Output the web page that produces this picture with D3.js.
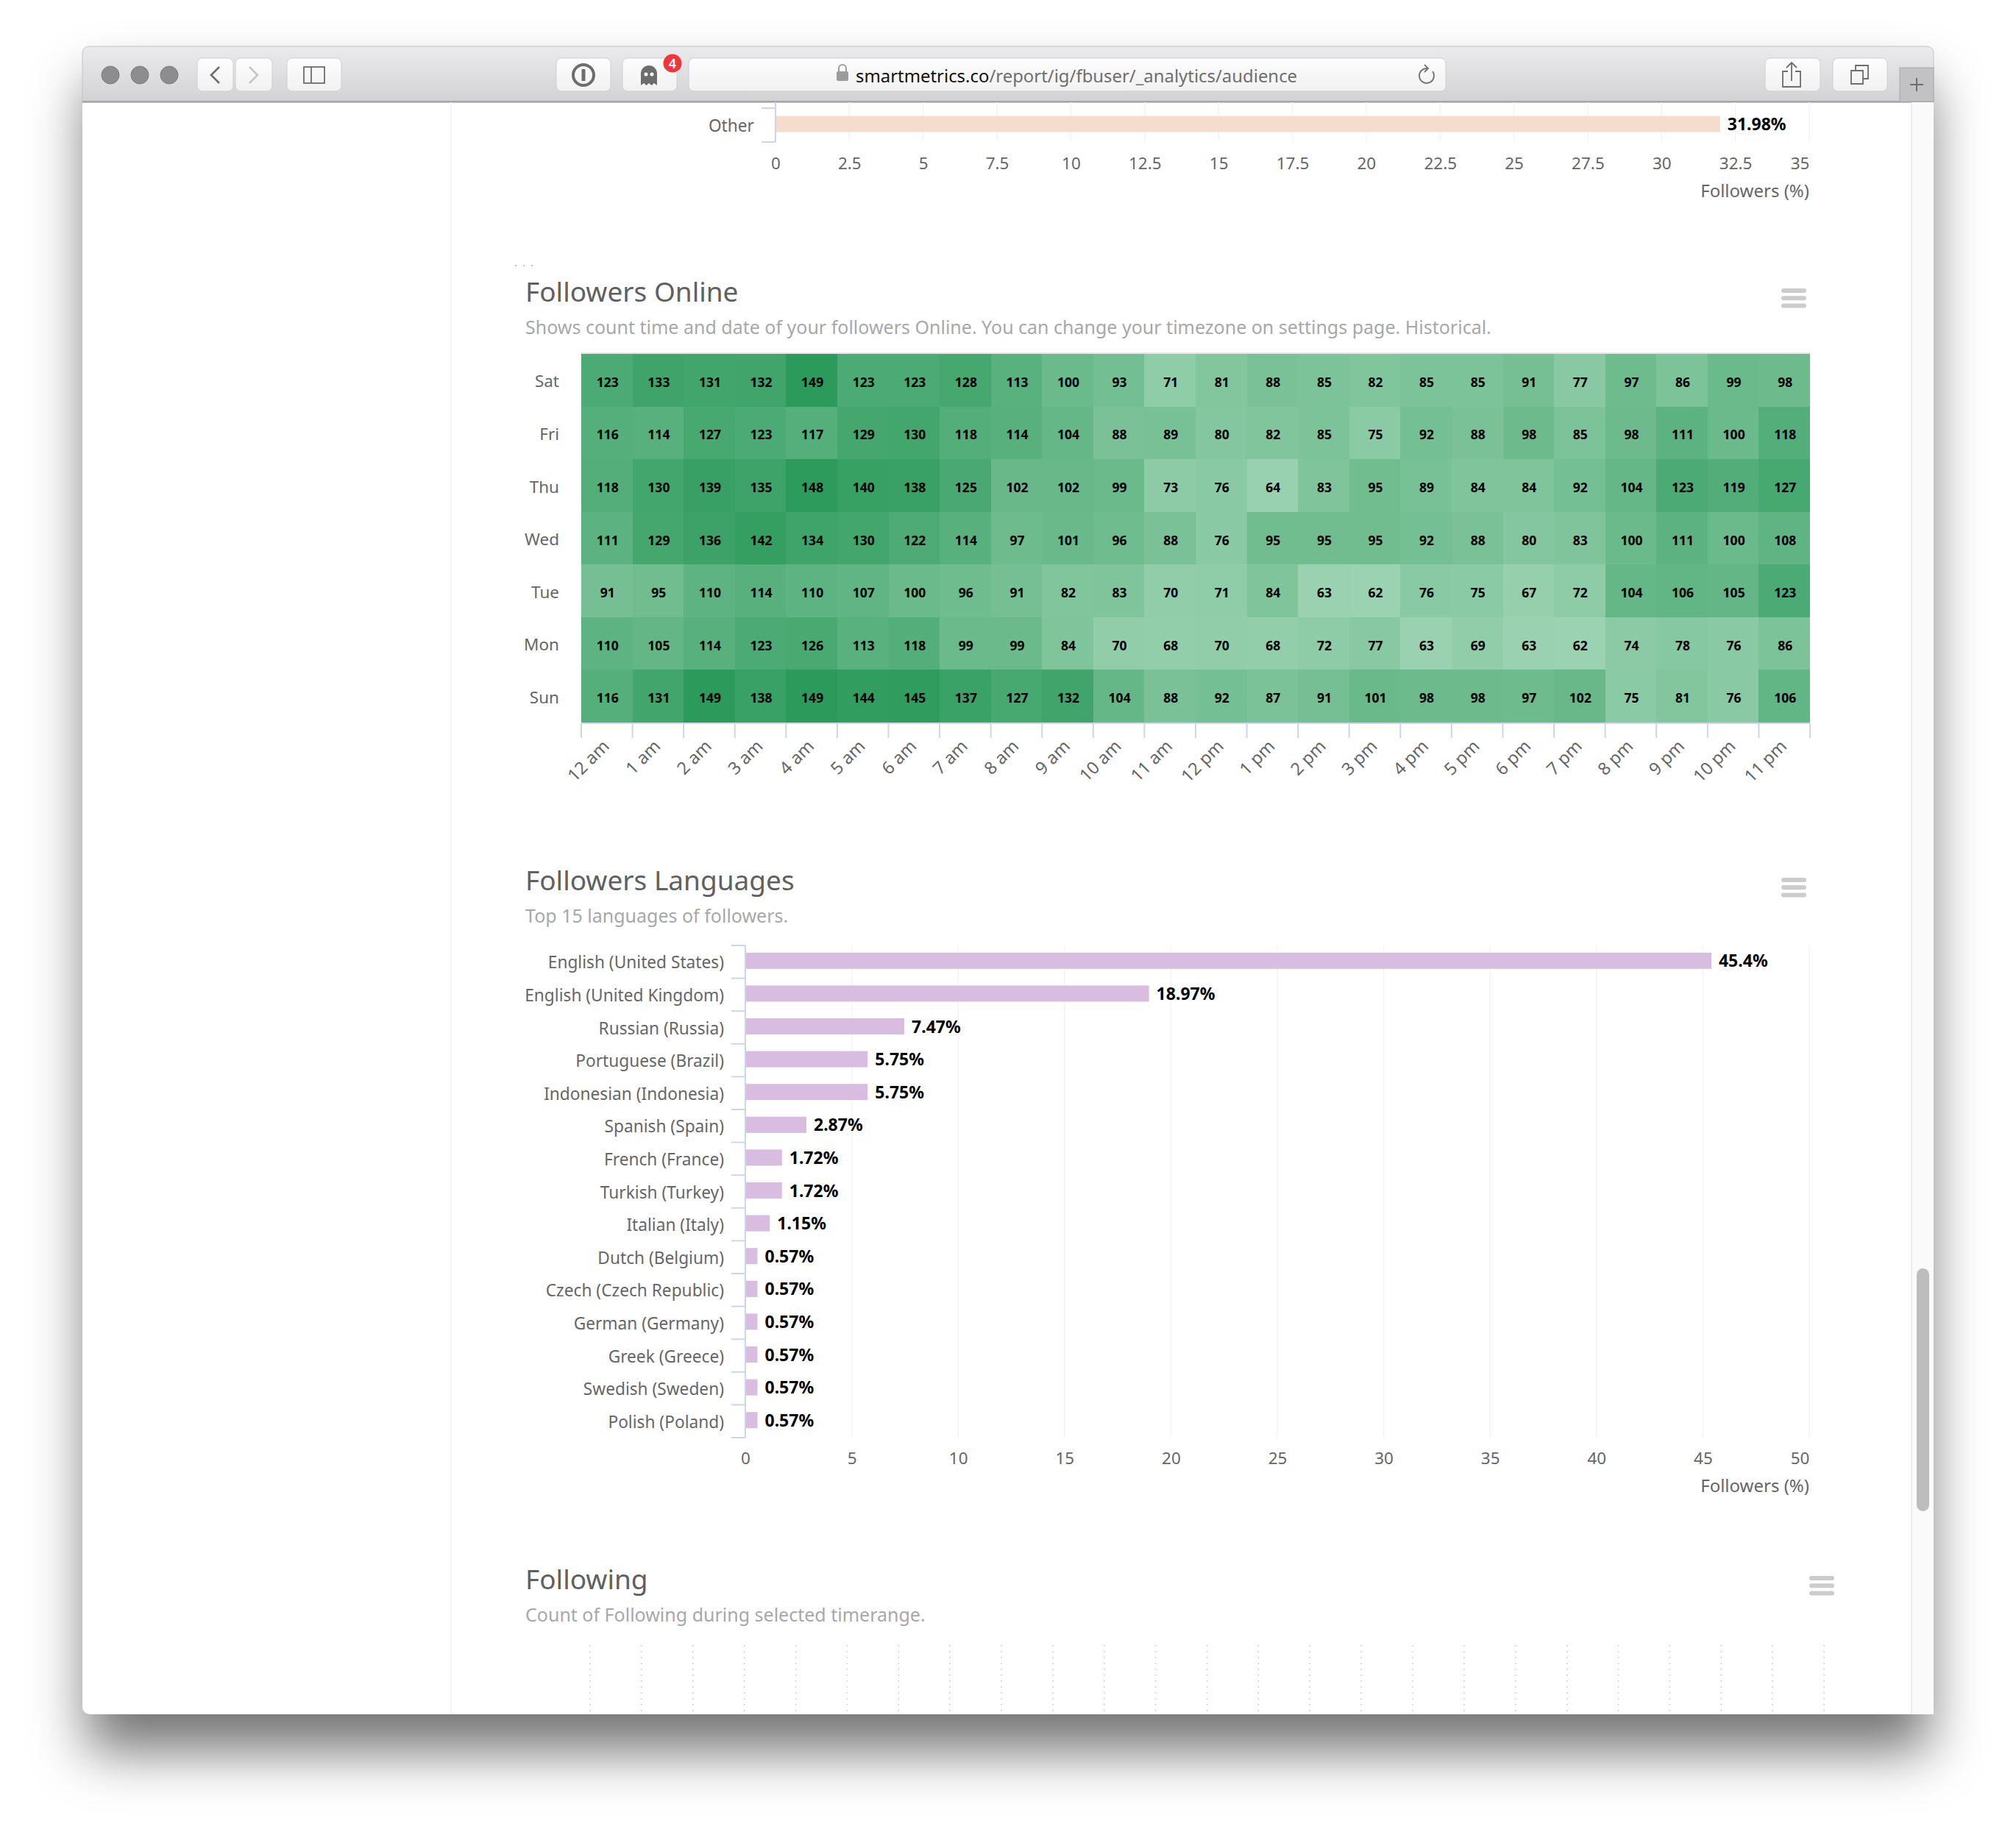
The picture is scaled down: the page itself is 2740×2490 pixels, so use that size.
<!DOCTYPE html>
<html>
<head>
<meta charset="utf-8">
<script src="https://cdnjs.cloudflare.com/ajax/libs/d3/7.8.5/d3.min.js"></script>
<style>
  html, body { margin: 0; background: #fff; }
  svg { display: block; }
  text { font-family: "Noto Sans", sans-serif; }
  .domain { display: none; }
</style>
</head>
<body>
<div id="chart"></div>
<script>
// data
const days = ["Sat", "Fri", "Thu", "Wed", "Tue", "Mon", "Sun"];
const hours = ["12 am","1 am","2 am","3 am","4 am","5 am","6 am","7 am","8 am","9 am","10 am","11 am",
               "12 pm","1 pm","2 pm","3 pm","4 pm","5 pm","6 pm","7 pm","8 pm","9 pm","10 pm","11 pm"];
const sat = [123,133,131,132,149,123,123,128,113,100,93,71,81,88,85,82,85,85,91,77,97,86,99,98];
const fri = [116,114,127,123,117,129,130,118,114,104,88,89,80,82,85,75,92,88,98,85,98,111,100,118];
const thu = [118,130,139,135,148,140,138,125,102,102,99,73,76,64,83,95,89,84,84,92,104,123,119,127];
const wed = [111,129,136,142,134,130,122,114,97,101,96,88,76,95,95,95,92,88,80,83,100,111,100,108];
const tue = [91,95,110,114,110,107,100,96,91,82,83,70,71,84,63,62,76,75,67,72,104,106,105,123];
const mon = [110,105,114,123,126,113,118,99,99,84,70,68,70,68,72,77,63,69,63,62,74,78,76,86];
const sun = [116,131,149,138,149,144,145,137,127,132,104,88,92,87,91,101,98,98,97,102,75,81,76,106];
const online = [sat, fri, thu, wed, tue, mon, sun];

const languages = ["English (United States)","English (United Kingdom)","Russian (Russia)","Portuguese (Brazil)",
  "Indonesian (Indonesia)","Spanish (Spain)","French (France)","Turkish (Turkey)","Italian (Italy)","Dutch (Belgium)",
  "Czech (Czech Republic)","German (Germany)","Greek (Greece)","Swedish (Sweden)","Polish (Poland)"];
const languageShare = [45.4,18.97,7.47,5.75,5.75,2.87,1.72,1.72,1.15,0.57,0.57,0.57,0.57,0.57,0.57];

const otherNames = ["Other"];
const otherShare = [31.98];
const otherTicks = [0,2.5,5,7.5,10,12.5,15,17.5,20,22.5,25,27.5,30,32.5,35];
const languageTicks = [0,5,10,15,20,25,30,35,40,45,50];

const W = 2740, H = 2490;
const win = {x: 112, y: 63, right: 2628, bottom: 2330, bar: 139};

const svg = d3.select("#chart").append("svg").attr("width", W).attr("height", H);
const defs = svg.append("defs");

const blur = defs.append("filter").attr("id", "shadow")
  .attr("x", "-10%").attr("y", "-10%").attr("width", "120%").attr("height", "120%");
blur.append("feGaussianBlur").attr("stdDeviation", 37);

const barGrad = defs.append("linearGradient").attr("id", "toolbar").attr("x2", 0).attr("y2", 1);
barGrad.append("stop").attr("offset", 0).attr("stop-color", "#ebebed");
barGrad.append("stop").attr("offset", 1).attr("stop-color", "#d2d2d4");

const btnGrad = defs.append("linearGradient").attr("id", "button").attr("x2", 0).attr("y2", 1);
btnGrad.append("stop").attr("offset", 0).attr("stop-color", "#fdfdfd");
btnGrad.append("stop").attr("offset", 1).attr("stop-color", "#f1f1f1");

defs.append("clipPath").attr("id", "page").append("rect")
  .attr("x", win.x).attr("y", win.bar).attr("width", win.right - win.x).attr("height", win.bottom - win.bar);

// window
svg.append("rect").attr("x", win.x + 6).attr("y", win.y + 50)
  .attr("width", win.right - win.x - 12).attr("height", win.bottom - win.y)
  .attr("fill", "#000").attr("fill-opacity", 0.55).attr("filter", "url(#shadow)");
svg.append("rect").attr("x", win.x).attr("y", win.y)
  .attr("width", win.right - win.x).attr("height", win.bottom - win.y)
  .attr("rx", 10).attr("fill", "#fff");
svg.append("path")
  .attr("d", `M${win.x},${win.bar}V${win.y + 10}Q${win.x},${win.y} ${win.x + 10},${win.y}H${win.right - 10}Q${win.right},${win.y} ${win.right},${win.y + 10}V${win.bar}Z`)
  .attr("fill", "url(#toolbar)").attr("stroke", "#c4c4c4");
svg.append("rect").attr("x", win.x).attr("y", win.bar - 2).attr("width", win.right - win.x).attr("height", 2.5).attr("fill", "#a6a6a8");

const lights = [150, 190, 230];
svg.selectAll(".light").data(lights).join("ellipse").attr("class", "light")
  .attr("cx", d => d).attr("cy", 102).attr("rx", 12).attr("ry", 12)
  .attr("fill", "#8d8d90").attr("stroke", "#79797c");

const buttons = [[268,49],[320,50],[390,74],[756,74],[846,74],[936,1029],[2399,75],[2491,74]];
svg.selectAll(".btn").data(buttons).join("rect").attr("class", "btn")
  .attr("x", d => d[0]).attr("y", 79).attr("width", d => d[1]).attr("height", 45).attr("rx", 7)
  .attr("fill", "url(#button)").attr("stroke", "#cfcfcf");

const icon = svg.append("g").attr("fill", "none").attr("stroke", "#6d6d6f").attr("stroke-width", 2.6);
icon.append("path").attr("d", "M298,91L287,102L298,113");
icon.append("path").attr("d", "M339,91L350,102L339,113").attr("stroke", "#c6c6c6");
icon.append("rect").attr("x", 413).attr("y", 91).attr("width", 28).attr("height", 22).attr("stroke-width", 1.8);
icon.append("path").attr("d", "M423,91V113").attr("stroke-width", 1.8);
icon.append("circle").attr("cx", 793).attr("cy", 102).attr("r", 14).attr("stroke-width", 4);
icon.append("path").attr("d", "M793,94V110").attr("stroke-width", 5);
icon.append("path").attr("d", "M1947,97a10,10 0 1 1 -7,-4M1936,88l5,5l-5,5").attr("stroke-width", 2).attr("stroke", "#777");
icon.append("path").attr("d", "M2430,97h-7v21h24v-21h-7M2435,110V85M2428,92l7,-7l7,7").attr("stroke-width", 1.8);
icon.append("path").attr("d", "M2522,96v-7h17v18h-7M2516,96h16v18h-16z").attr("stroke-width", 1.8);

// ghost icon with the red badge
svg.append("path")
  .attr("d", "M871,116V100a11,11 0 0 1 22,0V116l-4,-3l-3.500,3l-3.500,-3l-3.500,3l-3.500,-3z")
  .attr("fill", "#6d6d6f");
svg.append("circle").attr("cx", 878).attr("cy", 101).attr("r", 2.5).attr("fill", "#fff");
svg.append("circle").attr("cx", 886).attr("cy", 101).attr("r", 2.5).attr("fill", "#fff");
svg.append("circle").attr("cx", 914).attr("cy", 86).attr("r", 12.5).attr("fill", "#f0353b");
svg.append("text").attr("x", 914).attr("y", 92.500).attr("text-anchor", "middle")
  .attr("font-size", 18).attr("font-weight", 600).attr("fill", "#fff").text("4");

// url bar
svg.append("rect").attr("x", 1137).attr("y", 97).attr("width", 16).attr("height", 13).attr("rx", 2).attr("fill", "#9b9b9b");
svg.append("path").attr("d", "M1140,97v-4a5,5 0 0 1 10,0v4").attr("fill", "none").attr("stroke", "#9b9b9b").attr("stroke-width", 2);
const url = svg.append("text").attr("x", 1163).attr("y", 111.500).attr("font-size", 23.900);
url.append("tspan").attr("fill", "#111").text("smartmetrics.co");
url.append("tspan").attr("fill", "#6f6f6f").text("/report/ig/fbuser/_analytics/audience");

// new tab button
svg.append("rect").attr("x", 2582).attr("y", 92).attr("width", 46).attr("height", 46).attr("fill", "#c2c2c4").attr("stroke", "#a8a8aa");
svg.append("path").attr("d", "M2605,106V124M2596,115H2614").attr("stroke", "#6d6d6f").attr("stroke-width", 2);

const page = svg.append("g").attr("clip-path", "url(#page)");

// sidebar borders and scrollbar
page.append("line").attr("x1", 613).attr("x2", 613).attr("y1", win.bar).attr("y2", win.bottom).attr("stroke", "#f3f3f3").attr("stroke-width", 1.5);
page.append("rect").attr("x", 2598).attr("y", win.bar).attr("width", 30).attr("height", win.bottom - win.bar).attr("fill", "#fafafa");
page.append("line").attr("x1", 2598).attr("x2", 2598).attr("y1", win.bar).attr("y2", win.bottom).attr("stroke", "#e9e9e9").attr("stroke-width", 1.5);
page.append("rect").attr("x", 2605).attr("y", 1724).attr("width", 17).attr("height", 330).attr("rx", 8.500).attr("fill", "#bdbdbd");

const labelColor = "#666", axisColor = "#ccd6eb", gridColor = "#f4f4f6";

function header(title, sub, yTitle, yMenu, xMenu) {
  page.append("text").attr("x", 714).attr("y", yTitle)
    .attr("font-size", 37).attr("fill", "#606060").text(title);
  page.append("text").attr("x", 714).attr("y", yTitle + 44)
    .attr("font-size", 25).attr("fill", "#a8a8a8").text(sub);
  page.selectAll(null).data([0, 1, 2]).join("rect")
    .attr("x", xMenu).attr("y", d => yMenu + d * 10.300).attr("width", 34).attr("height", 6).attr("rx", 3)
    .attr("fill", "#cccccc");
}

// horizontal percent bars, used for both "Other" and languages
function hbar(opts) {
  const x = d3.scaleLinear().domain(opts.domain).range(opts.xr);
  const y = d3.scaleBand().domain(opts.names).range(opts.yr);
  const g = page.append("g");

  g.selectAll(".grid").data(opts.ticks).join("line")
    .attr("x1", d => x(d)).attr("x2", d => x(d))
    .attr("y1", opts.gridTop).attr("y2", opts.yr[1])
    .attr("stroke", gridColor).attr("stroke-width", 1.5);

  g.selectAll(".bar").data(opts.values).join("rect")
    .attr("x", x(0)).attr("y", (d, i) => y(opts.names[i]) + (y.step() - 22) / 2 - 1.5)
    .attr("width", d => x(d) - x(0)).attr("height", 22)
    .attr("fill", opts.color);

  g.selectAll(".val").data(opts.values).join("text")
    .attr("x", d => x(d) + 10).attr("y", (d, i) => y(opts.names[i]) + y.step() / 2 - 1)
    .attr("dy", "0.35em").attr("font-size", 23).attr("font-weight", 700).attr("fill", "#000")
    .text(d => d + "%");

  // left axis: labels from d3, ticks on the band edges like the original
  const yAxis = g.append("g").attr("transform", `translate(${x(0) - 29},0)`)
    .call(d3.axisLeft(y).tickSize(0).tickPadding(0));
  yAxis.selectAll("text").attr("font-size", 22.700).attr("fill", labelColor).attr("dy", "0.40em");
  g.selectAll(".edge").data(opts.names.concat("end")).join("line")
    .attr("x1", x(0) - 19).attr("x2", x(0))
    .attr("y1", (d, i) => opts.yr[0] + i * y.step()).attr("y2", (d, i) => opts.yr[0] + i * y.step())
    .attr("stroke", axisColor).attr("stroke-width", 2);
  g.append("line").attr("x1", x(0)).attr("x2", x(0)).attr("y1", opts.gridTop).attr("y2", opts.yr[1])
    .attr("stroke", axisColor).attr("stroke-width", 2);

  const xAxis = g.append("g").attr("transform", `translate(0,${opts.tickY})`)
    .call(d3.axisBottom(x).tickValues(opts.ticks).tickFormat(d => d).tickSize(0).tickPadding(0));
  xAxis.selectAll("text").attr("font-size", 22.500).attr("fill", labelColor).attr("dy", "0.35em")
    .attr("text-anchor", d => d === opts.domain[1] ? "end" : "middle");

  g.append("text").attr("x", opts.xr[1]).attr("y", opts.tickY + 38).attr("dy", "0.35em")
    .attr("text-anchor", "end").attr("font-size", 24).attr("fill", labelColor).text("Followers (%)");
}

hbar({
  names: otherNames, values: otherShare, ticks: otherTicks, domain: [0, 35],
  xr: [1054, 2459], yr: [147, 193], gridTop: 139, tickY: 222, color: "#f5dccd"
});

// followers online heatmap
header("Followers Online",
  "Shows count time and date of your followers Online. You can change your timezone on settings page. Historical.",
  410, 392, 2421);
page.append("path").attr("d", "M700,361H725").attr("stroke", "#bbb").attr("stroke-width", 2).attr("stroke-dasharray", "2 9");

const hx = d3.scaleBand().domain(hours).range([790, 2460]);
const hy = d3.scaleBand().domain(days).range([481, 982]);
const heatColor = d3.scaleLinear().domain([62, 149]).range(["#9bd2b1", "#2b9a5a"]);

page.append("line").attr("x1", 790).attr("x2", 2460).attr("y1", 480).attr("y2", 480).attr("stroke", "#e6e6e6").attr("stroke-width", 2);

const row = page.selectAll(".row").data(online).join("g").attr("class", "row")
  .attr("transform", (d, i) => `translate(0,${hy(days[i])})`);
row.selectAll("rect").data(d => d).join("rect")
  .attr("x", (d, i) => hx(hours[i])).attr("width", hx.bandwidth()).attr("height", hy.bandwidth())
  .attr("shape-rendering", "crispEdges")
  .attr("fill", d => heatColor(d));
row.selectAll("text").data(d => d).join("text")
  .attr("x", (d, i) => hx(hours[i]) + hx.bandwidth() / 2 + 1).attr("y", hy.bandwidth() / 2 + 3)
  .attr("dy", "0.35em").attr("text-anchor", "middle")
  .attr("font-size", 17.500).attr("font-weight", 700).attr("fill", "#000").text(d => d);

const hyAxis = page.append("g").attr("transform", "translate(760,0)")
  .call(d3.axisLeft(hy).tickSize(0).tickPadding(0));
hyAxis.selectAll("text").attr("font-size", 22.500).attr("fill", labelColor).attr("dy", "0.43em");

page.selectAll(".hedge").data(hours.concat("end")).join("line")
  .attr("x1", (d, i) => 790 + i * hx.step()).attr("x2", (d, i) => 790 + i * hx.step())
  .attr("y1", 983).attr("y2", 1003).attr("stroke", axisColor).attr("stroke-width", 2);
page.append("line").attr("x1", 790).attr("x2", 2460).attr("y1", 983).attr("y2", 983).attr("stroke", axisColor).attr("stroke-width", 2);

const hxAxis = page.append("g").attr("transform", "translate(0,1006)")
  .call(d3.axisBottom(hx).tickSize(0).tickPadding(0));
hxAxis.selectAll("text")
  .attr("font-size", 23.500).attr("fill", labelColor)
  .attr("text-anchor", "end").attr("dy", "0.7em").attr("y", 0)
  .attr("transform", "translate(-7,-2) rotate(-45)");

// followers languages
header("Followers Languages", "Top 15 languages of followers.", 1210, 1193, 2421);
hbar({
  names: languages, values: languageShare, ticks: languageTicks, domain: [0, 50],
  xr: [1013, 2459], yr: [1285, 1954], gridTop: 1285, tickY: 1982, color: "#d8bde0"
});

// following, only the top of it is on screen
header("Following", "Count of Following during selected timerange.", 2160, 2142, 2459);
const fx = d3.scaleLinear().domain([0, 24]).range([802, 2479]);
page.selectAll(".fgrid").data(fx.ticks(24)).join("line")
  .attr("x1", d => fx(d)).attr("x2", d => fx(d)).attr("y1", 2236).attr("y2", win.bottom)
  .attr("stroke", "#d0d0d0").attr("stroke-width", 1.5).attr("stroke-dasharray", "2 6");
</script>
</body>
</html>
